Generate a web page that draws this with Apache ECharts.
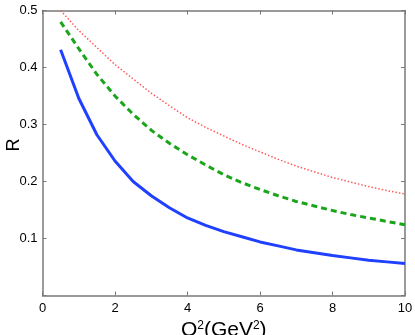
<!DOCTYPE html>
<html>
<head>
<meta charset="utf-8">
<script src="https://cdn.jsdelivr.net/npm/echarts@6/dist/echarts.min.js"></script>
<style>
html,body{margin:0;padding:0;background:#fff;}
#c{width:415px;height:335px;}
</style>
</head>
<body>
<div id="c"></div>
<script>
var q2 = [0.5, 1, 1.5, 2, 2.5, 3, 3.5, 4, 4.5, 5, 5.5, 6, 6.5, 7, 7.5, 8, 8.5, 9, 9.5, 10];
var blueR = [0.431, 0.346, 0.282, 0.236, 0.200, 0.175, 0.154, 0.136, 0.123, 0.112, 0.103, 0.094, 0.087, 0.080, 0.075, 0.070, 0.066, 0.062, 0.059, 0.056];
var greenR = [0.480, 0.433, 0.388, 0.350, 0.318, 0.290, 0.267, 0.247, 0.229, 0.212, 0.198, 0.186, 0.175, 0.165, 0.157, 0.149, 0.142, 0.136, 0.130, 0.124];
var redR = [0.500, 0.465, 0.435, 0.405, 0.380, 0.355, 0.333, 0.312, 0.295, 0.280, 0.265, 0.252, 0.239, 0.227, 0.217, 0.207, 0.199, 0.191, 0.184, 0.178];
var xTicks = [0, 2, 4, 6, 8, 10];
var yTicks = [0.1, 0.2, 0.3, 0.4, 0.5];

function pairs(ys){ return q2.map(function(x,i){ return [x, ys[i]]; }); }

var axisCol = '#7a7a7a';
var font = 'Liberation Sans, Arial, sans-serif';
var chart = echarts.init(document.getElementById('c'), null, {renderer:'canvas'});
var baseX = {
  type:'value', min:0, max:10, interval:2,
  axisLine:{show:true, onZero:false, lineStyle:{color:axisCol, width:1.5}},
  axisTick:{show:true, inside:true, length:4, lineStyle:{color:axisCol, width:1}},
  splitLine:{show:false}
};
var baseY = {
  type:'value', min:0, max:0.5, interval:0.1,
  axisLine:{show:true, onZero:false, lineStyle:{color:axisCol, width:1.5}},
  axisTick:{show:true, inside:true, length:4, lineStyle:{color:axisCol, width:1}},
  splitLine:{show:false}
};
chart.setOption({
  animation:false,
  backgroundColor:'#fff',
  grid:{left:42.5, right:10, top:10.5, bottom:39.5, containLabel:false, outerBoundsMode:'none'},
  xAxis:[
    Object.assign({}, baseX, {
      position:'bottom',
      axisLabel:{show:true, color:'#000', fontSize:13, fontFamily:font, margin:6,
        formatter:function(v){ return xTicks.indexOf(v)>=0 ? String(v) : ''; }},
      name:'{a|Q}{s|2}{a|(GeV}{s|2}{a|)}',
      nameLocation:'middle', nameGap:24,
      nameTextStyle:{rich:{
        a:{fontSize:21, fontFamily:font, color:'#000', verticalAlign:'bottom'},
        s:{fontSize:12, fontFamily:font, color:'#000', verticalAlign:'bottom', padding:[0,0,9,0]}
      }}
    }),
    Object.assign({}, baseX, {position:'top', axisLabel:{show:false}})
  ],
  yAxis:[
    Object.assign({}, baseY, {
      position:'left',
      axisLabel:{show:true, color:'#000', fontSize:13, fontFamily:font, margin:5,
        formatter:function(v){ var r=Math.round(v*10)/10; return yTicks.indexOf(r)>=0 ? r.toFixed(1) : ''; }},
      name:'R', nameLocation:'middle', nameGap:19, nameRotate:90, nameMoveOverlap:false,
      nameTextStyle:{fontSize:18, fontFamily:font, color:'#000', padding:[0,0,0,16]}
    }),
    Object.assign({}, baseY, {position:'right', axisLabel:{show:false}})
  ],
  series:[
    {type:'line', data:pairs(redR), showSymbol:false, symbol:'none',
      lineStyle:{color:'#ff5a5a', width:1.5, type:[1.5,2]}},
    {type:'line', data:pairs(greenR), showSymbol:false, symbol:'none',
      lineStyle:{color:'#1aa51a', width:3, type:[6,4]}},
    {type:'line', data:pairs(blueR), showSymbol:false, symbol:'none',
      lineStyle:{color:'#2040ff', width:3, type:'solid'}}
  ]
});
</script>
</body>
</html>
